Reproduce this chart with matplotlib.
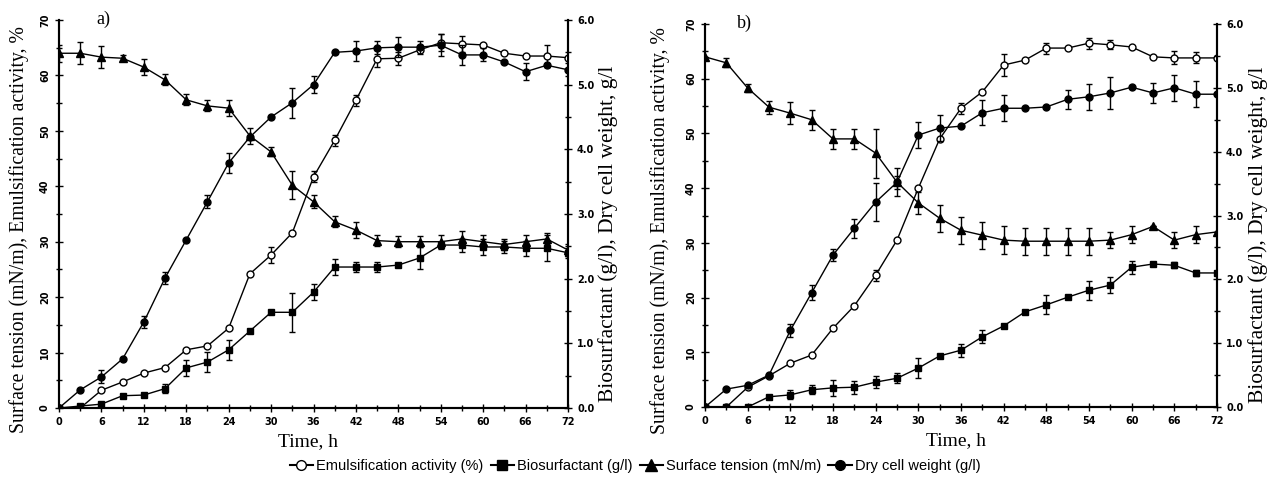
import matplotlib
matplotlib.use("Agg")
import matplotlib.pyplot as plt
from matplotlib.lines import Line2D
import numpy as np

# ---------------- data ----------------
time_h = [0, 3, 6, 9, 12, 15, 18, 21, 24, 27, 30, 33, 36, 39, 42, 45, 48, 51, 54, 57, 60, 63, 66, 69, 72]

# panel a
a_emuls = [0, 0, 3.2, 4.7, 6.3, 7.3, 10.5, 11.2, 14.4, 24.2, 27.6, 31.6, 41.7, 48.3, 55.5, 63.0, 63.1, 64.6, 65.9, 65.7, 65.5, 64.0, 63.5, 63.5, 63.2]
a_emuls_err = [0, 0, 0, 0, 0, 0, 0, 0, 0, 0, 1.5, 0, 1.0, 1.0, 1.0, 1.5, 1.2, 0, 1.5, 1.5, 0, 0, 0, 2.0, 0]
a_bios = [0, 0.03, 0.06, 0.19, 0.20, 0.30, 0.62, 0.71, 0.90, 1.19, 1.48, 1.48, 1.79, 2.18, 2.18, 2.18, 2.21, 2.32, 2.52, 2.52, 2.49, 2.49, 2.47, 2.47, 2.40]
a_bios_err = [0, 0, 0, 0, 0, 0.07, 0.12, 0.15, 0.15, 0, 0, 0.3, 0.12, 0.12, 0.08, 0.08, 0, 0.17, 0.05, 0.1, 0.12, 0.1, 0.12, 0.2, 0.08]
a_tension = [64.0, 64.0, 63.3, 63.1, 61.5, 59.2, 55.6, 54.5, 54.1, 49.1, 46.2, 40.2, 37.2, 33.6, 32.1, 30.2, 30.0, 30.0, 30.0, 30.5, 30.0, 29.5, 30.0, 30.5, 28.5]
a_tension_err = [1.5, 2.0, 2.0, 0.5, 1.5, 1.0, 1.0, 1.0, 1.5, 1.5, 0.8, 2.5, 1.2, 1.0, 1.5, 1.0, 1.0, 1.0, 1.3, 1.5, 1.2, 1.0, 1.2, 1.0, 1.0]
a_dcw = [0, 0.28, 0.48, 0.76, 1.33, 2.01, 2.60, 3.19, 3.79, 4.19, 4.50, 4.72, 5.00, 5.50, 5.52, 5.57, 5.58, 5.58, 5.61, 5.46, 5.46, 5.35, 5.20, 5.30, 5.23]
a_dcw_err = [0, 0, 0.1, 0, 0.1, 0.1, 0, 0.1, 0.15, 0, 0, 0.23, 0.13, 0, 0.15, 0.1, 0.15, 0.1, 0.17, 0.15, 0.1, 0, 0.13, 0, 0.1]

# panel b
b_emuls = [0, 0, 3.6, 5.7, 8.0, 9.5, 14.4, 18.5, 24.1, 30.5, 40.0, 49.0, 54.6, 57.6, 62.5, 63.4, 65.6, 65.6, 66.5, 66.2, 65.8, 64.0, 63.8, 63.8, 63.8]
b_emuls_err = [0, 0, 0, 0, 0, 0, 0, 0, 1.0, 0, 0, 0, 1.0, 0, 2.0, 0, 1.0, 0, 1.0, 0.8, 0, 0, 1.2, 1.0, 0]
b_bios = [0, 0, 0, 0.16, 0.19, 0.27, 0.30, 0.31, 0.39, 0.45, 0.61, 0.80, 0.89, 1.10, 1.27, 1.49, 1.60, 1.72, 1.83, 1.91, 2.19, 2.24, 2.22, 2.10, 2.10]
b_bios_err = [0, 0, 0, 0, 0.07, 0.07, 0.12, 0.1, 0.1, 0.08, 0.15, 0, 0.1, 0.1, 0, 0, 0.15, 0, 0.15, 0.12, 0.1, 0, 0.05, 0.05, 0]
b_tension = [64.0, 62.9, 58.3, 54.8, 53.7, 52.5, 49.0, 49.0, 46.4, 41.1, 37.3, 34.5, 32.3, 31.4, 30.5, 30.3, 30.3, 30.3, 30.3, 30.5, 31.5, 33.0, 30.5, 31.5, 32.0]
b_tension_err = [0, 0.8, 0.8, 1.2, 2.0, 1.8, 1.8, 1.8, 4.5, 2.5, 2.0, 2.5, 2.5, 2.5, 2.5, 2.5, 2.5, 2.5, 2.5, 1.5, 1.5, 0, 1.5, 1.5, 0]
b_dcw = [0, 0.28, 0.34, 0.50, 1.20, 1.79, 2.38, 2.80, 3.21, 3.52, 4.26, 4.37, 4.40, 4.61, 4.68, 4.68, 4.70, 4.82, 4.86, 4.92, 5.01, 4.92, 5.00, 4.90, 4.90]
b_dcw_err = [0, 0, 0, 0, 0.1, 0.12, 0.1, 0.15, 0.3, 0.1, 0.2, 0.2, 0, 0.2, 0.2, 0, 0, 0.15, 0.2, 0.25, 0, 0.15, 0.2, 0.2, 0]

x_ticks = [0, 6, 12, 18, 24, 30, 36, 42, 48, 54, 60, 66, 72]
left_ticks = [0, 10, 20, 30, 40, 50, 60, 70]
right_ticks = [0.0, 1.0, 2.0, 3.0, 4.0, 5.0, 6.0]

labels = ["Emulsification activity (%)", "Biosurfactant (g/l)",
          "Surface tension (mN/m)", "Dry cell weight (g/l)"]

SERIF = ["Liberation Serif", "DejaVu Serif"]
SANS = ["Liberation Sans", "DejaVu Sans"]

fig = plt.figure(figsize=(12.71, 4.83), dpi=100)

lw = 1.0
ms = 5.0
ekw = dict(elinewidth=1.0, capsize=2.5, capthick=1.0, ecolor="black")


def panel(rect, emuls, emuls_err, bios, bios_err, tens, tens_err, dcw, dcw_err, tag, tagx, ylx):
    ax = fig.add_axes(rect)
    ax2 = ax.twinx()
    t = np.array(time_h)
    ax.errorbar(t, emuls, yerr=emuls_err, fmt="-o", color="black", mfc="white",
                mec="black", ms=ms, lw=lw, zorder=3, **ekw)
    ax.errorbar(t, tens, yerr=tens_err, fmt="-^", color="black", mfc="black",
                ms=ms + 0.5, lw=lw, zorder=3, **ekw)
    ax2.errorbar(t, bios, yerr=bios_err, fmt="-s", color="black", mfc="black",
                 ms=ms, lw=lw, zorder=3, **ekw)
    ax2.errorbar(t, dcw, yerr=dcw_err, fmt="-o", color="black", mfc="black",
                 ms=ms, lw=lw, zorder=3, **ekw)
    ax.set_xlim(0, 72)
    ax.set_ylim(0, 70)
    ax2.set_ylim(0, 6)
    ax.set_xticks(x_ticks)
    ax.set_xticks(np.arange(0, 73, 3), minor=True)
    ax.set_yticks(left_ticks)
    ax.set_yticks(np.arange(0, 71, 5), minor=True)
    ax2.set_yticks(right_ticks)
    ax2.set_yticks(np.arange(0, 6.01, 0.5), minor=True)
    ax.set_xticklabels([str(v) for v in x_ticks], fontsize=7, fontweight="bold")
    ax.set_yticklabels([str(v) for v in left_ticks], fontsize=7, fontweight="bold",
                       rotation=90, va="center")
    ax2.set_yticklabels(["%.1f" % v for v in right_ticks], fontsize=7, fontweight="bold")
    for a in (ax, ax2):
        a.spines["top"].set_visible(False)
        for s in a.spines.values():
            s.set_linewidth(1.5)
        a.tick_params(which="both", direction="inout", width=1.0)
        a.tick_params(which="major", length=6)
        a.tick_params(which="minor", length=4)
    ax.set_xlabel("Time, h", family=SERIF, fontsize=14)
    ax.xaxis.set_label_coords(0.49, -0.065)
    ax.set_ylabel("Surface tension (mN/m), Emulsification activity, %",
                  family=SERIF, fontsize=14.2)
    ax.yaxis.set_label_coords(ylx, 0.46)
    ax2.set_ylabel("Biosurfactant (g/l), Dry cell weight, g/l",
                   family=SERIF, fontsize=15.5)
    ax2.yaxis.set_label_coords(1.06, 0.45)
    ax.text(tagx, 1.025, tag, transform=ax.transAxes, family=SERIF, fontsize=13,
            va="top", ha="left")
    return ax


panel([59 / 1271, 75 / 483, 509 / 1271, 388 / 483],
      a_emuls, a_emuls_err, a_bios, a_bios_err, a_tension, a_tension_err,
      a_dcw, a_dcw_err, "a)", 0.073, -0.058)
panel([705 / 1271, 76 / 483, 512 / 1271, 383 / 483],
      b_emuls, b_emuls_err, b_bios, b_bios_err, b_tension, b_tension_err,
      b_dcw, b_dcw_err, "b)", 0.062, -0.068)

handles = [
    Line2D([], [], color="black", lw=1.5, marker="o", mfc="white", mec="black", ms=7),
    Line2D([], [], color="black", lw=1.5, marker="s", mfc="black", ms=7),
    Line2D([], [], color="black", lw=1.5, marker="^", mfc="black", ms=8),
    Line2D([], [], color="black", lw=1.5, marker="o", mfc="black", ms=7),
]
fig.legend(handles, labels, loc="center", bbox_to_anchor=(635 / 1271, 1 - 466 / 483),
           ncol=4, frameon=False, prop=dict(family=SANS, size=10.5),
           handlelength=1.6, handletextpad=0.2, columnspacing=0.5, borderpad=0)

fig.savefig("out.png", dpi=100)
